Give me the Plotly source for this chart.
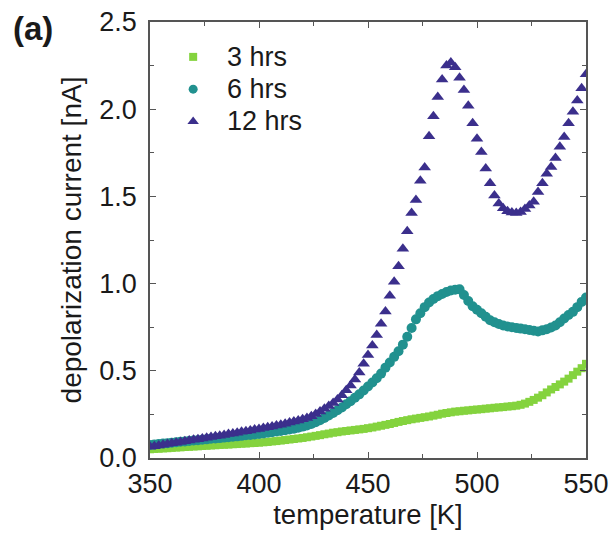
import plotly.graph_objects as go

temperature = list(range(350, 551, 2))

current_3h = [
    0.050, 0.052, 0.053, 0.055, 0.056, 0.058, 0.060, 0.061, 0.063, 0.064,
    0.066, 0.067, 0.069, 0.070, 0.072, 0.073, 0.075, 0.076, 0.077, 0.079,
    0.080, 0.082, 0.083, 0.085, 0.086, 0.088, 0.090, 0.092, 0.095, 0.097,
    0.100, 0.103, 0.106, 0.109, 0.112, 0.115, 0.119, 0.123, 0.127, 0.131,
    0.136, 0.140, 0.145, 0.148, 0.152, 0.155, 0.158, 0.161, 0.164, 0.167,
    0.171, 0.175, 0.180, 0.185, 0.190, 0.195, 0.201, 0.207, 0.212, 0.217,
    0.222, 0.226, 0.230, 0.234, 0.238, 0.243, 0.248, 0.254, 0.258, 0.262,
    0.266, 0.268, 0.271, 0.273, 0.276, 0.278, 0.280, 0.283, 0.285, 0.288,
    0.290, 0.292, 0.295, 0.297, 0.300, 0.305, 0.312, 0.322, 0.333, 0.346,
    0.360, 0.376, 0.393, 0.407, 0.422, 0.438, 0.455, 0.475, 0.495, 0.515,
    0.540,
]

current_6h = [
    0.075, 0.078, 0.080, 0.083, 0.085, 0.088, 0.090, 0.093, 0.095, 0.098,
    0.100, 0.102, 0.105, 0.107, 0.110, 0.112, 0.114, 0.117, 0.119, 0.122,
    0.124, 0.127, 0.130, 0.132, 0.135, 0.138, 0.141, 0.145, 0.148, 0.152,
    0.155, 0.159, 0.163, 0.168, 0.174, 0.180, 0.187, 0.195, 0.205, 0.217,
    0.230, 0.244, 0.258, 0.274, 0.290, 0.308, 0.326, 0.345, 0.365, 0.387,
    0.410, 0.433, 0.457, 0.484, 0.518, 0.548, 0.580, 0.612, 0.650, 0.695,
    0.745, 0.795, 0.830, 0.865, 0.892, 0.912, 0.928, 0.940, 0.952, 0.960,
    0.965, 0.967, 0.935, 0.900, 0.870, 0.850, 0.830, 0.810, 0.790, 0.778,
    0.768, 0.760, 0.754, 0.750, 0.746, 0.742, 0.738, 0.734, 0.730, 0.726,
    0.732, 0.738, 0.748, 0.760, 0.778, 0.800, 0.820, 0.838, 0.865, 0.895,
    0.920,
]

current_12h = [
    0.065, 0.068, 0.072, 0.076, 0.080, 0.084, 0.088, 0.092, 0.096, 0.100,
    0.104, 0.108, 0.112, 0.116, 0.120, 0.124, 0.128, 0.132, 0.137, 0.141,
    0.145, 0.150, 0.154, 0.158, 0.163, 0.167, 0.172, 0.176, 0.181, 0.186,
    0.191, 0.197, 0.203, 0.209, 0.215, 0.222, 0.230, 0.240, 0.252, 0.266,
    0.282, 0.298, 0.315, 0.335, 0.360, 0.388, 0.415, 0.450, 0.490, 0.540,
    0.590, 0.645, 0.705, 0.770, 0.840, 0.930, 1.010, 1.100, 1.200, 1.300,
    1.405, 1.480, 1.590, 1.665, 1.845, 1.960, 2.070, 2.170, 2.250, 2.268,
    2.240, 2.180, 2.110, 2.020, 1.920, 1.830, 1.755, 1.660, 1.575, 1.505,
    1.460, 1.432, 1.415, 1.408, 1.405, 1.410, 1.428, 1.448, 1.470, 1.525,
    1.575, 1.630, 1.668, 1.720, 1.785, 1.840, 1.920, 1.985, 2.050, 2.120,
    2.200,
]

series_names = ["3 hrs", "6 hrs", "12 hrs"]
series_colors = ["#84d33e", "#21918f", "#3b2f8c"]
series_symbols = ["square", "circle", "triangle-up"]
series_sizes = [8, 10, 11]
legend_sizes = [8, 9, 10]

FONT = "Liberation Sans, Arial, sans-serif"
INK = "#1a1a1a"
AX = "#555555"
FS = 27

fig = go.Figure()
for name, vals, col, sym, sz in zip(series_names, [current_3h, current_6h, current_12h],
                                    series_colors, series_symbols, series_sizes):
    fig.add_trace(go.Scatter(
        x=temperature, y=vals, mode="markers", name=name, showlegend=False,
        marker=dict(symbol=sym, size=sz, color=col, line=dict(width=0)),
    ))

# manual legend (layout positions in paper-like overlay axes)
leg_x_marker = 0.099
leg_x_text = 0.172
leg_rows = [0.920, 0.846, 0.772]
for name, col, sym, sz, yy in zip(series_names, series_colors, series_symbols, legend_sizes, leg_rows):
    fig.add_trace(go.Scatter(
        x=[leg_x_marker], y=[yy], mode="markers", xaxis="x2", yaxis="y2",
        showlegend=False, hoverinfo="skip",
        marker=dict(symbol=sym, size=sz, color=col, line=dict(width=0)),
    ))
    fig.add_annotation(
        text=name, xref="paper", yref="paper", x=leg_x_text, y=yy,
        xanchor="left", yanchor="middle", showarrow=False,
        font=dict(family=FONT, size=FS, color=INK),
    )

axis_common = dict(
    showline=True, linecolor=AX, linewidth=1.5, mirror="ticks",
    ticks="inside", ticklen=6, tickwidth=1.2, tickcolor=AX,
    showgrid=False, zeroline=False, automargin=False,
    tickfont=dict(family=FONT, size=FS, color=INK),
)

fig.update_xaxes(
    range=[350, 550], dtick=50, tick0=350, ticklabelstandoff=1,
    title=dict(text="temperature [K]", font=dict(family=FONT, size=27.5, color=INK), standoff=2),
    minor=dict(dtick=25, ticks="inside", ticklen=4, tickcolor=AX, tickwidth=1.2),
    **axis_common,
)
fig.update_yaxes(
    range=[0, 2.5], dtick=0.5, tick0=0, tickformat=".1f", ticklabelstandoff=6,
    title=dict(text="depolarization current [nA]", font=dict(family=FONT, size=28, color=INK), standoff=10),
    minor=dict(dtick=0.25, ticks="inside", ticklen=4, tickcolor=AX, tickwidth=1.2),
    **axis_common,
)

fig.update_layout(
    width=613, height=535,
    margin=dict(l=150, r=27, t=22, b=77, autoexpand=False),
    paper_bgcolor="white", plot_bgcolor="white",
    font=dict(family=FONT, size=FS, color=INK),
    showlegend=False,
    xaxis2=dict(overlaying="x", range=[0, 1], visible=False, domain=[0, 1]),
    yaxis2=dict(overlaying="y", range=[0, 1], visible=False, domain=[0, 1]),
)

fig.add_annotation(
    text="<b>(a)</b>", xref="paper", yref="paper",
    x=-0.318, y=0.985, xanchor="left", yanchor="middle",
    showarrow=False, font=dict(family=FONT, size=33, color=INK),
)

fig.write_html("out.html")
